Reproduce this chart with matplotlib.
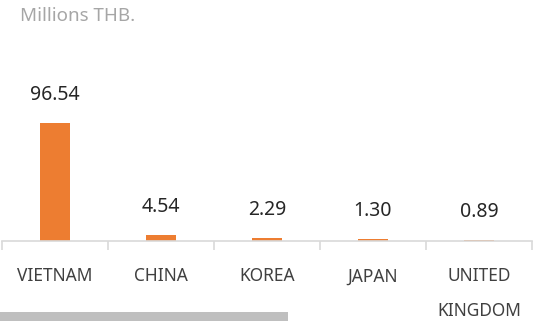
import matplotlib.pyplot as plt
from matplotlib.patches import Rectangle

plt.rcParams['font.family'] = ['Noto Sans', 'DejaVu Sans']

countries = ['VIETNAM', 'CHINA', 'KOREA', 'JAPAN', 'UNITED\nKINGDOM']
values = [96.54, 4.54, 2.29, 1.30, 0.89]
value_labels = ['96.54', '4.54', '2.29', '1.30', '0.89']

W, H = 541, 321
fig = plt.figure(figsize=(W / 100, H / 100), dpi=100)
ax = fig.add_axes([2 / W, 80 / H, 530 / W, 201 / H])

x = list(range(len(countries)))
bars = ax.bar(x, values, width=0.283, color='#ED7D31')
ax.bar_label(bars, labels=value_labels, padding=13, fontsize=14, color='#262626')

ax.set_xlim(-0.5, len(countries) - 0.5)
ax.set_ylim(0, 165.1)
ax.set_yticks([])
ax.set_xticks(x)
ax.set_xticklabels(countries, fontsize=12.5, color='#404040', linespacing=2.2)
ax.set_xticks([i - 0.5 for i in range(len(countries) + 1)], minor=True)
ax.tick_params(axis='x', which='major', length=0, pad=19)
ax.tick_params(axis='x', which='minor', length=6.5, color='#d9d9d9', width=1.2)
for side in ['top', 'left', 'right']:
    ax.spines[side].set_visible(False)
ax.spines['bottom'].set_color('#d9d9d9')
ax.spines['bottom'].set_linewidth(1.2)

fig.text(20 / W, 1 - 16 / H, 'Millions THB.', fontsize=13.5, color='#a6a6a6',
         ha='left', va='center')

# scrollbar strip at the bottom
fig.patches.append(Rectangle((0, 0), 288 / W, 9 / H, transform=fig.transFigure,
                             facecolor='#bfbfbf', edgecolor='none'))

fig.savefig('out.png', dpi=100)
